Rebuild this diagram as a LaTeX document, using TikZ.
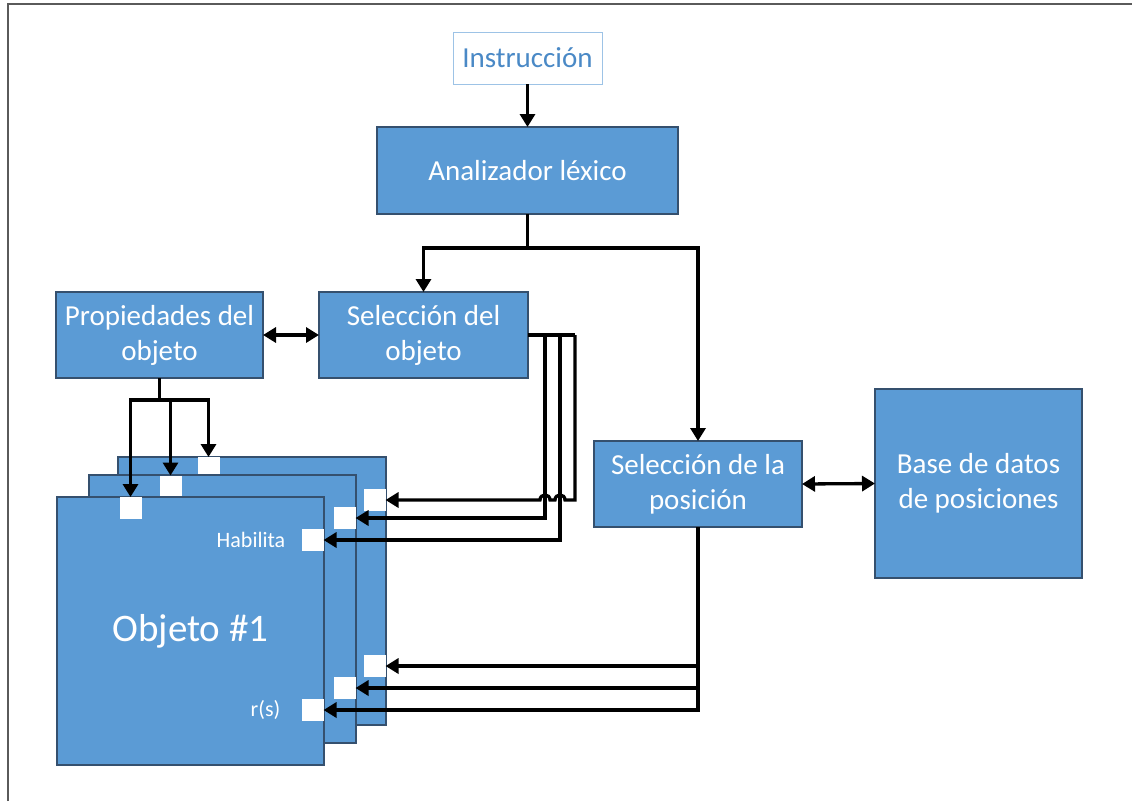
\documentclass[tikz,border=0pt]{standalone}
\usepackage{fontspec}
\setmainfont{Carlito}
\usetikzlibrary{arrows.meta}
\definecolor{boxfill}{HTML}{5B9BD5}
\definecolor{boxline}{HTML}{35506E}
\definecolor{instrline}{HTML}{9DC3E6}
\definecolor{instrtext}{HTML}{4A89C6}
\definecolor{framegray}{HTML}{5A5A5A}
\begin{document}
\begin{tikzpicture}[x=1pt,y=-1pt,
  block/.style={draw=boxline, line width=1.4pt, fill=boxfill, text=white,
    align=center, inner sep=0pt, outer sep=0pt,
    font=\fontsize{29}{35}\selectfont},
  port/.style={fill=white, minimum size=22pt, inner sep=0pt, outer sep=0pt},
  link/.style={line width=3.3pt},
  arr/.style={link, -{Triangle[length=13pt,width=15pt]}},
  dbl/.style={link, {Triangle[length=13pt,width=15pt]}-{Triangle[length=13pt,width=15pt]}},
  lbl/.style={text=white, font=\fontsize{22}{26}\selectfont, inner sep=0pt}]

\useasboundingbox (0,0) rectangle (1132,801);

% page frame
\draw[framegray, line width=1.6pt] (8,801) -- (8,4) -- (1132,4);

% processing blocks
\node[block, minimum width=149pt, minimum height=52pt, fill=white,
  draw=instrline, line width=1pt, text=instrtext] (instr) at (527.5,58) {Instrucción};
\node[block, minimum width=301pt, minimum height=87pt] (lex) at (527.5,170.5) {Analizador léxico};
\node[block, minimum width=207pt, minimum height=86pt] (prop) at (159.5,335) {Propiedades del\\objeto};
\node[block, minimum width=209pt, minimum height=86pt] (selobj) at (423.5,335) {Selección del\\objeto};
\node[block, minimum width=208pt, minimum height=86pt] (selpos) at (698,484) {Selección de la\\posición};
\node[block, minimum width=207pt, minimum height=189pt] (base) at (978.5,483.5) {Base de datos\\de posiciones};

% stack of objects, back to front, each with its input ports
\node[block, minimum width=268pt, minimum height=268pt] (obj3) at (252,591) {};
\node[port] (p3t) at (208.5,468) {};
\node[port] (p3r) at (374.5,500) {};
\node[port] (p3b) at (374.5,666) {};

\node[block, minimum width=267pt, minimum height=268pt] (obj2) at (222.5,609) {};
\node[port] (p2t) at (170.5,486.5) {};
\node[port] (p2r) at (344.5,518) {};
\node[port] (p2b) at (344.5,688) {};

\node[block, minimum width=267pt, minimum height=268pt,
  font=\fontsize{39}{44}\selectfont] (obj1) at (190.5,631) {Objeto \#1};
\node[port] (p1t) at (130.5,508) {};
\node[port] (p1r) at (312.5,540) {};
\node[port] (p1b) at (312.5,710) {};

\node[lbl, anchor=east] (hab) at ([xshift=-16pt]p1r.west) {Habilita};
\node[lbl, anchor=east] (rs) at ([xshift=-21pt]p1b.west) {r(s)};

% connectors
\draw[arr] (instr) -- (lex);

\coordinate (lexfork) at (527.5,248);
\draw[link] (lex.south) -- (lexfork);
\draw[arr] (lexfork) -| (selobj.north);
\draw[arr] (lexfork) -| (selpos.north);

\draw[dbl] (prop.east) -- (selobj.west);
\draw[dbl] (selpos.east) -- (base.west);

\coordinate (propfork) at (159.5,400);
\draw[link] (prop.south) -- (propfork);
\draw[arr] (propfork) -| (p1t.north);
\draw[arr] (propfork) -| (p3t.north);
\draw[arr] (p2t.north |- propfork) -- (p2t.north);

\coordinate (sv1) at (545,335);
\coordinate (sv2) at (560,335);
\coordinate (sv3) at (575,335);
\draw[link] (selobj.east) -- (sv3);
\draw[arr] (sv1) |- (p2r.east);
\draw[arr] (sv2) |- (p1r.east);
% line hops over the two other verticals
\draw[arr] (sv3) -- (sv3 |- p3r.east) -- (565,500)
  .. controls (565,493.3) and (555,493.3) .. (555,500) -- (550,500)
  .. controls (550,493.3) and (540,493.3) .. (540,500) -- (p3r.east);

\draw[arr] (selpos.south) |- (p1b.east);
\draw[arr] (selpos.south |- p2b.east) -- (p2b.east);
\draw[arr] (selpos.south |- p3b.east) -- (p3b.east);

\end{tikzpicture}
\end{document}
